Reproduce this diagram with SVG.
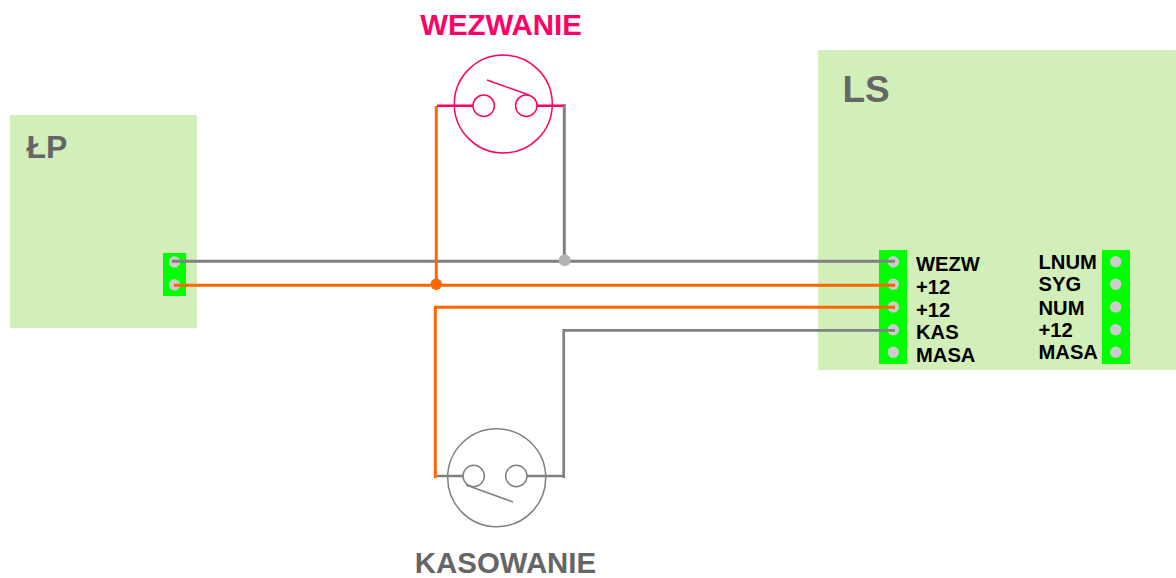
<svg xmlns="http://www.w3.org/2000/svg" width="1176" height="578" viewBox="0 0 1176 578">
<style>
text{font-family:"Liberation Sans",Arial,sans-serif;font-weight:bold}
.panel{fill:#d3efb9}
.strip{fill:#00ff00}
.pin{fill:#cccccc}
.lbl{font-size:20.2px;fill:#000}
.ttl{fill:#666666}
.o{fill:none;stroke:#ff6600;stroke-width:3}
.g{fill:none;stroke:#808080;stroke-width:3}
.g2{fill:none;stroke:#808080;stroke-width:2.7}
.sw{fill:none;stroke-width:1.5}
.lead{fill:none;stroke-width:2.5}
.red{stroke:#ff0066}
.gr{stroke:#808080}
</style>
<rect width="1176" height="578" fill="#fff"/>
<g id="LP">
<rect class="panel" x="10" y="115" width="187" height="213"/>
<text class="ttl" x="26.5" y="158" font-size="32">ŁP</text>
<rect class="strip" x="163" y="253" width="23" height="43"/>
<circle class="pin" cx="174.5" cy="262" r="5.7"/>
<circle class="pin" cx="174.5" cy="284.7" r="5.7"/>
</g>
<g id="LS">
<rect class="panel" x="818" y="50" width="358" height="320"/>
<text class="ttl" x="842.5" y="102" font-size="37">LS</text>
<rect class="strip" x="879" y="250" width="28" height="114"/>
<circle class="pin" cx="893.3" cy="261.7" r="5.7"/>
<circle class="pin" cx="893.3" cy="284.3" r="5.7"/>
<circle class="pin" cx="893.3" cy="307" r="5.7"/>
<circle class="pin" cx="893.3" cy="329.7" r="5.7"/>
<circle class="pin" cx="893.3" cy="352.3" r="5.7"/>
<text class="lbl" x="916" y="271">WEZW</text>
<text class="lbl" x="916" y="294">+12</text>
<text class="lbl" x="916" y="317">+12</text>
<text class="lbl" x="916" y="339">KAS</text>
<text class="lbl" x="916" y="362">MASA</text>
<rect class="strip" x="1102" y="250" width="28" height="114"/>
<circle class="pin" cx="1115.7" cy="261.7" r="5.7"/>
<circle class="pin" cx="1115.7" cy="284.3" r="5.7"/>
<circle class="pin" cx="1115.7" cy="307" r="5.7"/>
<circle class="pin" cx="1115.7" cy="329.7" r="5.7"/>
<circle class="pin" cx="1115.7" cy="352.3" r="5.7"/>
<text class="lbl" x="1038.5" y="269">LNUM</text>
<text class="lbl" x="1038.5" y="291">SYG</text>
<text class="lbl" x="1038.5" y="315">NUM</text>
<text class="lbl" x="1038.5" y="337">+12</text>
<text class="lbl" x="1038.5" y="359">MASA</text>
</g>
<g id="connectors">
<path class="g" d="M172 261.3H895"/>
<path class="o" d="M174 285.3H895"/>
<path class="o" d="M436.3 106V285"/>
<path class="g" d="M564.3 104V261"/>
<path class="o" d="M895 307.3H435.3V478"/>
<path class="g2" d="M895 330.3H563.7V478"/>
<circle cx="436.3" cy="284.3" r="5.7" fill="#ff6600"/>
<circle cx="564.7" cy="260.3" r="6" fill="#b3b3b3"/>
</g>
<g id="WEZWANIE">
<text x="501" y="34.7" font-size="29.4" fill="#ff0066" text-anchor="middle">WEZWANIE</text>
<circle class="sw red" cx="503.3" cy="104" r="49"/>
<circle class="sw red" cx="483.7" cy="105.7" r="10.7"/>
<circle class="sw red" cx="526.3" cy="105.7" r="10.7"/>
<path class="sw red" d="M487 80L529 95"/>
<path class="lead red" d="M437 105.7H473M537 105.7H563"/>
</g>
<g id="KASOWANIE">
<text x="505.5" y="573" font-size="29.4" class="ttl" text-anchor="middle">KASOWANIE</text>
<circle class="sw gr" cx="496.7" cy="477.7" r="49"/>
<circle class="sw gr" cx="473.7" cy="476" r="10.7"/>
<circle class="sw gr" cx="516.3" cy="476" r="10.7"/>
<path class="sw gr" d="M466 485L513 502"/>
<path class="lead gr" d="M437 476H463M527 476H563"/>
</g>
</svg>
